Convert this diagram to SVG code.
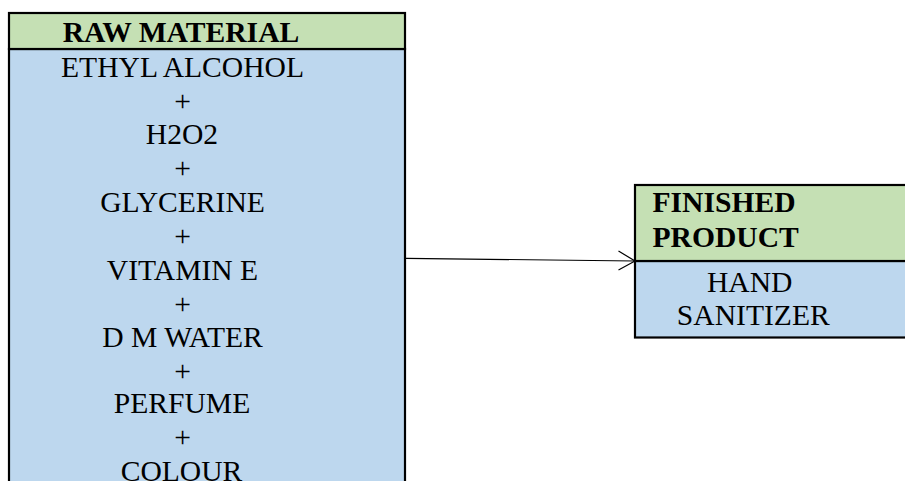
<svg xmlns="http://www.w3.org/2000/svg" width="905" height="481" viewBox="0 0 905 481">
<style>
.t{font-family:"Liberation Serif","Times New Roman",serif;font-size:29.6px;fill:#000}
.b{font-weight:bold}
.m{text-anchor:middle}
.hd{fill:#C5E0B4;stroke:#000;stroke-width:2.2}
.bd{fill:#BDD7EE;stroke:#000;stroke-width:2.2}
.c{fill:none;stroke:#000;stroke-width:1.2}
</style>
<rect width="905" height="481" fill="#fff"/>
<g id="raw-material">
<rect class="bd" x="9" y="49" width="396" height="450"/>
<rect class="hd" x="9" y="13" width="396" height="36"/>
<text class="t b m" x="181" y="41.7">RAW MATERIAL</text>
<text class="t m" x="182.5" y="77">ETHYL ALCOHOL</text>
<text class="t m" x="182.5" y="111">+</text>
<text class="t m" x="182" y="143.5">H2O2</text>
<text class="t m" x="182.5" y="178">+</text>
<text class="t m" x="182.5" y="211.7">GLYCERINE</text>
<text class="t m" x="182.5" y="246">+</text>
<text class="t m" x="182.5" y="280">VITAMIN E</text>
<text class="t m" x="182.5" y="313.5">+</text>
<text class="t m" x="182.5" y="346.7">D M WATER</text>
<text class="t m" x="182.5" y="380.5">+</text>
<text class="t m" x="182" y="413.3">PERFUME</text>
<text class="t m" x="182.5" y="447">+</text>
<text class="t m" x="181.5" y="480.5">COLOUR</text>
</g>
<g id="finished-product">
<rect class="bd" x="635" y="261" width="290" height="76.5"/>
<rect class="hd" x="635" y="185" width="290" height="76"/>
<text class="t b" x="652.5" y="211.7">FINISHED</text>
<text class="t b" x="652.5" y="247">PRODUCT</text>
<text class="t m" x="749.7" y="291.7">HAND</text>
<text class="t m" x="753.3" y="325">SANITIZER</text>
</g>
<g id="connectors">
<line class="c" x1="406" y1="258.3" x2="635" y2="261"/>
<polyline class="c" points="618.5,251 635,261 618.5,270"/>
</g>
</svg>
